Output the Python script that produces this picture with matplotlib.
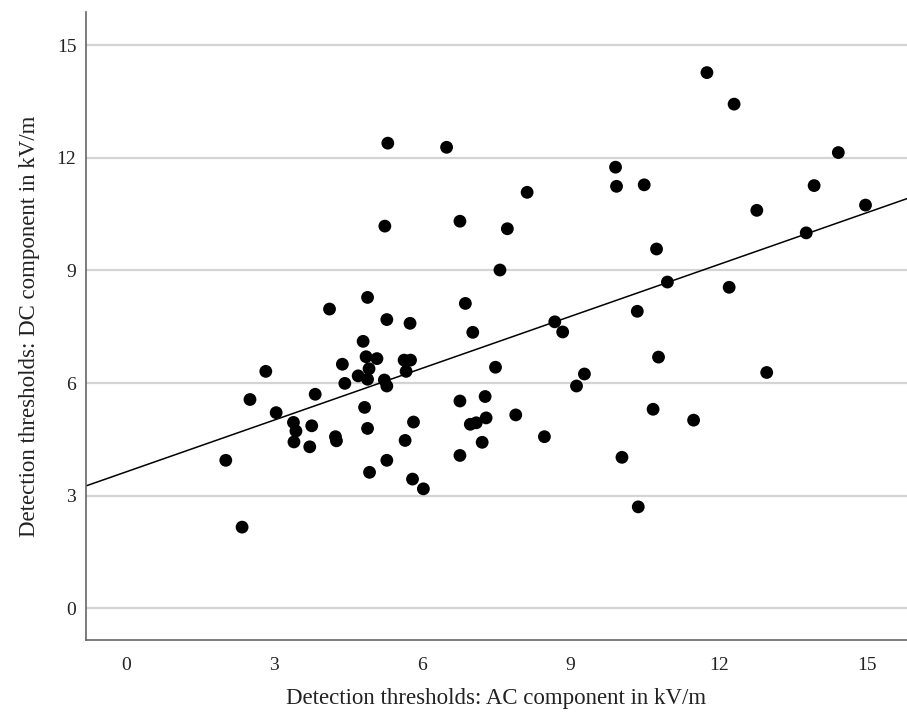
import numpy as np
import matplotlib
matplotlib.use("Agg")
import matplotlib.pyplot as plt

# Detection thresholds (kV/m)
ac_values = [2.02, 2.35, 2.51, 2.83, 3.04, 3.39, 3.44, 3.40, 3.76, 3.72, 3.83, 4.12,
             4.24, 4.26, 4.38, 4.43, 4.70, 4.80, 4.89, 4.86, 4.92, 4.89, 4.83, 4.89,
             4.93, 5.08, 5.23, 5.28, 5.28, 5.28, 5.30, 5.24, 5.63, 5.76, 5.67, 5.75,
             5.82, 5.65, 5.80, 6.02, 6.49, 6.76, 6.76, 6.76, 6.87, 7.02, 6.97, 7.09,
             7.21, 7.27, 7.29, 7.48, 7.57, 7.72, 7.89, 8.12, 8.47, 8.68, 8.84, 9.12,
             9.28, 9.91, 9.93, 10.04, 10.35, 10.37, 10.49, 10.67, 10.74, 10.78, 10.96,
             11.49, 11.76, 12.21, 12.31, 12.77, 12.97, 13.77, 13.93, 14.42, 14.97]
dc_values = [3.94, 2.16, 5.56, 6.31, 5.21, 4.95, 4.72, 4.43, 4.86, 4.30, 5.70, 7.97,
             4.57, 4.46, 6.50, 5.99, 6.19, 7.11, 8.28, 6.70, 6.38, 6.10, 5.35, 4.79,
             3.62, 6.65, 6.08, 5.92, 7.69, 3.94, 12.39, 10.18, 6.61, 6.61, 6.31, 7.59,
             4.96, 4.47, 3.44, 3.18, 12.28, 10.31, 5.52, 4.07, 8.12, 7.35, 4.90, 4.94,
             4.42, 5.64, 5.07, 6.42, 9.01, 10.11, 5.15, 11.08, 4.57, 7.63, 7.36, 5.92,
             6.24, 11.75, 11.24, 4.02, 7.91, 2.70, 11.28, 5.30, 9.57, 6.69, 8.69,
             5.01, 14.27, 8.55, 13.43, 10.60, 6.28, 10.00, 11.26, 12.14, 10.74]
tick_values = [0, 3, 6, 9, 12, 15]
x_label = "Detection thresholds: AC component in kV/m"
y_label = "Detection thresholds: DC component in kV/m"

plt.rcParams['font.family'] = ['Liberation Serif', 'DejaVu Serif']

fig = plt.figure(figsize=(9.07, 7.16), dpi=100)
ax = fig.add_axes([0.0948, 0.106, 0.9052, 0.877])

x = np.array(ac_values)
y = np.array(dc_values)

ax.set_xlim(-0.81, 15.81)
ax.set_ylim(-0.85, 15.88)

ax.set_yticks(tick_values)
ax.set_xticks(tick_values)
ax.yaxis.grid(True, color='#d4d4d4', linewidth=1.6)
ax.set_axisbelow(True)

ax.scatter(x, y, s=85, color='black', edgecolors='none', zorder=3)

slope, intercept = np.polyfit(x, y, 1)
xl = np.array(ax.get_xlim())
ax.plot(xl, intercept + slope * xl, color='black', linewidth=1.1, zorder=2)

for s in ['top', 'right']:
    ax.spines[s].set_visible(False)
for s in ['left', 'bottom']:
    ax.spines[s].set_color('#666666')
    ax.spines[s].set_linewidth(1.2)

ax.tick_params(axis='both', length=0, labelsize=14, colors='#222222')
ax.tick_params(axis='y', pad=7)
ax.tick_params(axis='x', pad=12)

ax.set_xlabel(x_label, fontsize=16.5, labelpad=10, color='#222222')
ax.set_ylabel(y_label, fontsize=16.5, labelpad=12, color='#222222')

fig.savefig("out.png", dpi=100)
